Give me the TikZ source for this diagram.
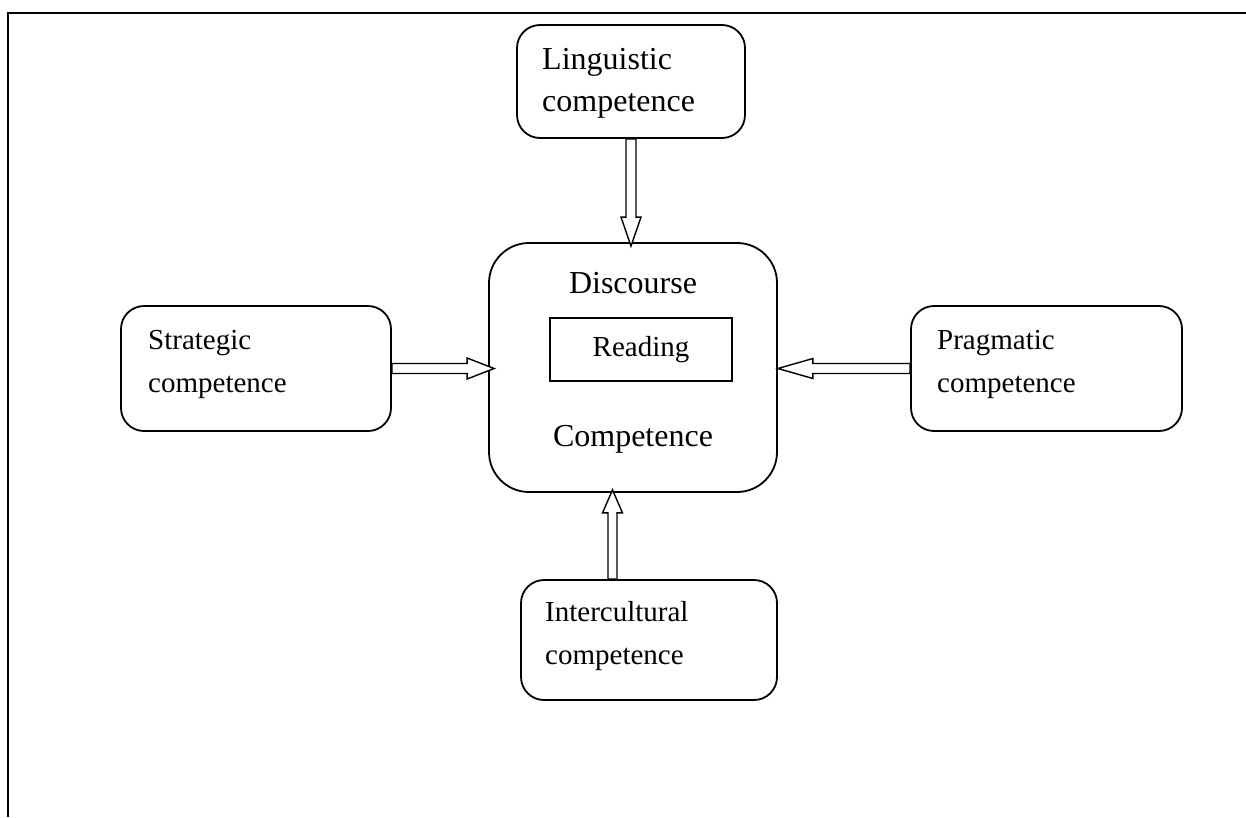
\documentclass[tikz,border=0pt]{standalone}
\usepackage{fontspec}
\setmainfont{Liberation Serif}
\usetikzlibrary{calc}
\tikzset{
  box/.style={draw, line width=1.8pt, inner sep=0pt, rounded corners=23pt},
  blk/.style={draw, line width=1.4pt, fill=white, line join=miter},
  big/.style={font=\fontsize{32}{42}\selectfont, inner sep=0pt, align=left},
  small/.style={font=\fontsize{29}{43}\selectfont, inner sep=0pt, align=left},
}
\begin{document}
\begin{tikzpicture}[x=1pt,y=-1pt]
\useasboundingbox (0,0) rectangle (1246,817);
% page frame (top and left edges)
\draw[line width=2.3pt] (8,817) -- (8,13) -- (1246,13);

% boxes
\node[box, minimum width=228pt, minimum height=113pt] (ling) at (631,81.5) {};
\node[box, rounded corners=40pt, minimum width=288pt, minimum height=249pt] (disc) at (633,367.5) {};
\node[box, minimum width=270pt, minimum height=125pt] (strat) at (256,368.5) {};
\node[box, minimum width=271pt, minimum height=125pt] (prag) at (1046.5,368.5) {};
\node[box, minimum width=256pt, minimum height=120pt] (inter) at (649,640) {};
\node[draw, line width=1.6pt, minimum width=182pt, minimum height=63pt, inner sep=0pt,
      font=\fontsize{29}{34}\selectfont] (read) at (641,349.5) {Reading};

% labels
\node[big, anchor=north west] (lingt) at (542,48) {Linguistic\\competence};
\node[big, anchor=base] (dtop) at ($(disc.north)+(0,51)$) {Discourse};
\node[big, anchor=base] (dbot) at ($(disc.north)+(0,204)$) {Competence};
\node[small, anchor=north west] (stratt) at (148,330) {Strategic\\competence};
\node[small, anchor=north west] (pragt) at (937,330) {Pragmatic\\competence};
\node[small, anchor=north west] (intert) at (545,601) {Intercultural\\competence};

% hollow block arrows
\draw[blk] let \p1=(ling.south), \p2=(disc.north) in
  (\x1-5pt,\y1) -- (\x1-5pt,\y2+25pt) -- (\x1-10pt,\y2+25pt) -- (\x1,\y2-4pt)
  -- (\x1+10pt,\y2+25pt) -- (\x1+5pt,\y2+25pt) -- (\x1+5pt,\y1) -- cycle;
\draw[blk] let \p1=(strat.east), \p2=(disc.west) in
  (\x1,\y1+5pt) -- (\x2-21pt,\y1+5pt) -- (\x2-21pt,\y1+10.5pt) -- (\x2+6pt,\y1)
  -- (\x2-21pt,\y1-10.5pt) -- (\x2-21pt,\y1-5pt) -- (\x1,\y1-5pt) -- cycle;
\draw[blk] let \p1=(prag.west), \p2=(disc.east) in
  (\x1,\y1+5pt) -- (\x2+35pt,\y1+5pt) -- (\x2+35pt,\y1+10pt) -- (\x2,\y1)
  -- (\x2+35pt,\y1-10pt) -- (\x2+35pt,\y1-5pt) -- (\x1,\y1-5pt) -- cycle;
\draw[blk] let \p1=($(disc.south)+(-20.5,0)$), \p2=(inter.north) in
  (\x1-4.5pt,\y2) -- (\x1-4.5pt,\y1-20pt) -- (\x1-10pt,\y1-20pt) -- (\x1,\y1+3pt)
  -- (\x1+10pt,\y1-20pt) -- (\x1+4.5pt,\y1-20pt) -- (\x1+4.5pt,\y2) -- cycle;
\end{tikzpicture}
\end{document}
